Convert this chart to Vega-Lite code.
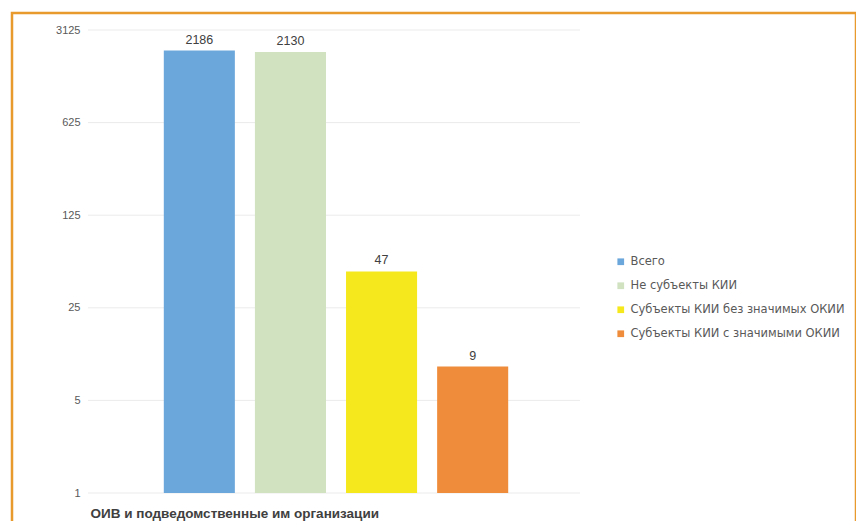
{
  "$schema": "https://vega.github.io/schema/vega-lite/v6.json",
  "autosize": "none",
  "padding": {"left": 12, "top": 13, "right": 0, "bottom": 0},
  "width": 844,
  "height": 512,
  "background": "white",
  "config": {
    "view": {"stroke": "#E89B2C", "strokeWidth": 2.5},
    "font": "Liberation Sans"
  },
  "datasets": {
    "bars": [
      {"series": "Всего", "value": 2186},
      {"series": "Не субъекты КИИ", "value": 2130},
      {"series": "Субъекты КИИ без значимых ОКИИ", "value": 47},
      {"series": "Субъекты КИИ с значимыми ОКИИ", "value": 9}
    ],
    "grid": [
      {"tick": 1}, {"tick": 5}, {"tick": 25}, {"tick": 125}, {"tick": 625}, {"tick": 3125}
    ]
  },
  "layer": [
    {
      "data": {"name": "grid"},
      "mark": {"type": "rule", "color": "#EBEBEB", "strokeWidth": 1},
      "encoding": {
        "y": {
          "field": "tick", "type": "quantitative", "title": null,
          "scale": {"type": "log", "base": 5, "domain": [1, 3125], "range": [480, 17]},
          "axis": {
            "values": [1, 5, 25, 125, 625, 3125], "format": "d",
            "grid": false, "domain": false, "ticks": false,
            "offset": -72, "labelPadding": 4,
            "labelFontSize": 11, "labelColor": "#595959", "title": null
          }
        },
        "x": {"datum": 0, "type": "quantitative", "scale": {"domain": [0, 1], "range": [76, 568]}, "axis": null},
        "x2": {"datum": 1}
      }
    },
    {
      "data": {"name": "bars"},
      "encoding": {
        "x": {
          "field": "series", "type": "nominal", "sort": null,
          "scale": {"range": [78, 570], "paddingInner": 0.22, "paddingOuter": 0.81},
          "axis": {
            "title": "ОИВ и подведомственные им организации",
            "titleAnchor": "start", "titleAlign": "left",
            "labels": false, "ticks": false, "domain": false,
            "offset": -32, "titleFontWeight": "bold", "titleFontSize": 13.5,
            "titleColor": "#404040", "titlePadding": 13
          }
        },
        "y": {
          "field": "value", "type": "quantitative", "title": null,
          "scale": {"type": "log", "base": 5, "domain": [1, 3125], "range": [480, 17]}
        }
      },
      "layer": [
        {
          "mark": {"type": "bar"},
          "encoding": {
            "y2": {"datum": 1},
            "color": {
              "field": "series", "type": "nominal", "sort": null,
              "scale": {
                "domain": ["Всего", "Не субъекты КИИ", "Субъекты КИИ без значимых ОКИИ", "Субъекты КИИ с значимыми ОКИИ"],
                "range": ["#6CA7DB", "#D0E2C0", "#F5E91E", "#EF8C3B"]
              },
              "legend": {
                "orient": "none", "legendX": 603, "legendY": 243, "title": null,
                "symbolType": "square", "symbolSize": 45, "symbolStrokeWidth": 0,
                "labelFont": "DejaVu Sans", "labelFontSize": 11.5, "labelColor": "#595959",
                "labelLimit": 0, "rowPadding": 11
              }
            }
          }
        },
        {
          "mark": {"type": "text", "dy": -4, "baseline": "bottom", "fontSize": 12.5, "color": "#404040"},
          "encoding": {"text": {"field": "value", "type": "quantitative"}}
        }
      ]
    }
  ],
  "resolve": {"scale": {"x": "independent"}}
}
